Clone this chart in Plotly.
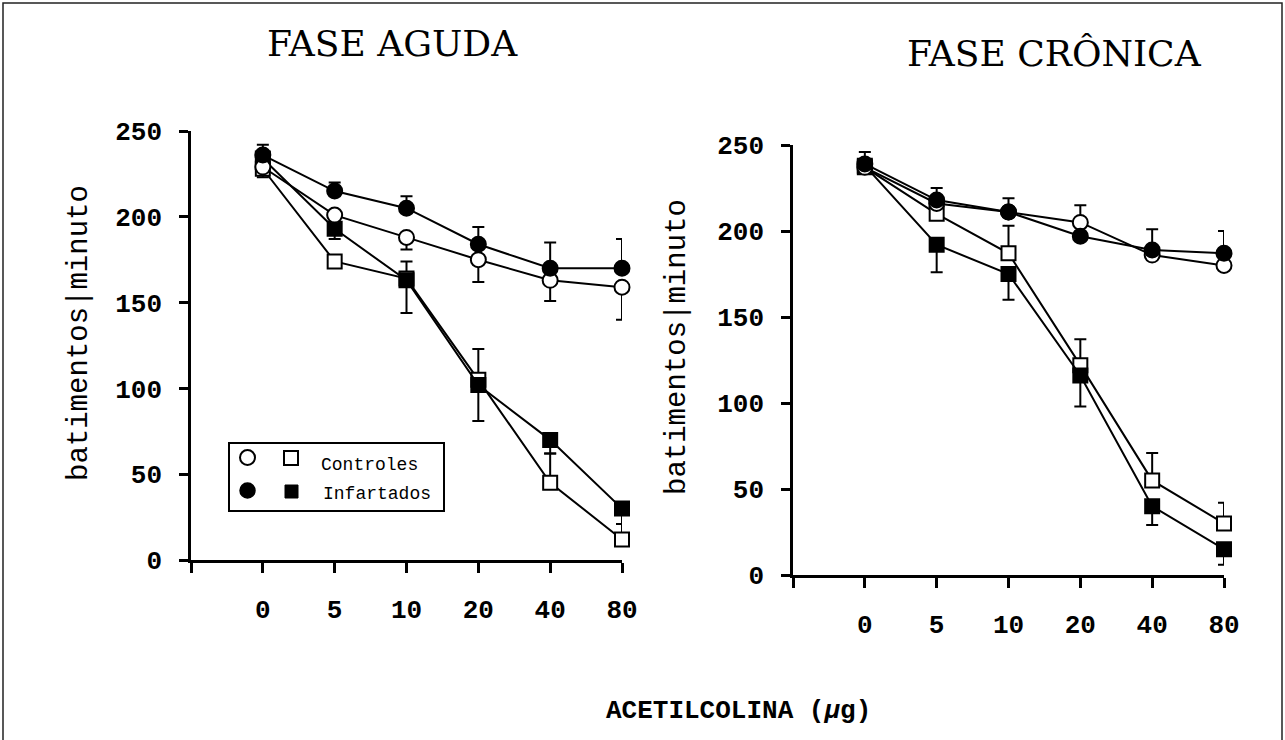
import plotly.graph_objects as go

W, H = 1285, 740

# ---------------- data ----------------
doses = ["0", "5", "10", "20", "40", "80"]
xpos = [1, 2, 3, 4, 5, 6]

# Fase aguda
ag_ctrl_circ = [229, 201, 188, 175, 163, 159]
ag_ctrl_circ_err_dn = [6, 4, 7, 13, 12, 19]
ag_inf_circ = [236, 215, 205, 184, 170, 170]
ag_inf_circ_err_up = [6, 5, 7, 10, 15, 17]
ag_ctrl_sq = [228, 174, 164, 105, 45, 12]
ag_ctrl_sq_err_up = [0, 0, 10, 18, 17, 9]
ag_inf_sq = [234, 193, 163, 102, 70, 30]
ag_inf_sq_err_dn = [0, 6, 19, 21, 8, 9]

# Fase cronica
cr_ctrl_circ = [237, 216, 211, 205, 186, 180]
cr_ctrl_circ_err_up = [0, 0, 0, 10, 0, 0]
cr_inf_circ = [239, 218, 211, 197, 189, 187]
cr_inf_circ_err_up = [7, 7, 8, 0, 12, 13]
cr_ctrl_sq = [237, 210, 187, 122, 55, 30]
cr_ctrl_sq_err_up = [0, 0, 16, 15, 16, 12]
cr_inf_sq = [238, 192, 175, 116, 40, 15]
cr_inf_sq_err_dn = [0, 16, 15, 18, 11, 9]

yticks = [0, 50, 100, 150, 200, 250]

MONO = "Liberation Mono, Courier New, monospace"
SERIF = "DejaVu Serif, Liberation Serif, serif"

fig = go.Figure()


def add_series(xa, ya, y, up, dn, symbol, filled):
    fig.add_trace(go.Scatter(
        x=xpos, y=y, xaxis=xa, yaxis=ya,
        mode="lines+markers",
        line=dict(color="black", width=2),
        marker=dict(symbol=symbol, size=15 if "circle" in symbol else 14,
                    color="black" if filled else "white",
                    line=dict(color="black", width=2)),
        error_y=dict(type="data", symmetric=False,
                     array=up, arrayminus=dn,
                     color="black", thickness=2, width=6),
        cliponaxis=False, showlegend=False,
    ))

z = [0] * 6
# left panel
add_series("x", "y", ag_ctrl_sq, ag_ctrl_sq_err_up, z, "square", False)
add_series("x", "y", ag_inf_sq, z, ag_inf_sq_err_dn, "square", True)
add_series("x", "y", ag_ctrl_circ, z, ag_ctrl_circ_err_dn, "circle", False)
add_series("x", "y", ag_inf_circ, ag_inf_circ_err_up, z, "circle", True)
# right panel
add_series("x2", "y2", cr_ctrl_sq, cr_ctrl_sq_err_up, z, "square", False)
add_series("x2", "y2", cr_inf_sq, z, cr_inf_sq_err_dn, "square", True)
add_series("x2", "y2", cr_ctrl_circ, cr_ctrl_circ_err_up, z, "circle", False)
add_series("x2", "y2", cr_inf_circ, cr_inf_circ_err_up, z, "circle", True)

tickfont = dict(family=MONO, size=26, color="black", weight="bold")

xax = dict(range=[0, 6], tickvals=[0] + xpos, ticktext=[""] + doses,
           showgrid=False, zeroline=False, showline=True, linecolor="black",
           linewidth=2.5, ticks="outside", ticklen=10, tickwidth=2.5,
           tickcolor="black", tickfont=tickfont, ticklabelstandoff=14,
           automargin=False)
yax = dict(range=[0, 250], tickvals=yticks, showgrid=False, zeroline=False,
           showline=True, linecolor="black", linewidth=2.5, ticks="outside",
           ticklen=9, tickwidth=2.5, tickcolor="black", tickfont=tickfont,
           ticklabelstandoff=12, automargin=False)

def px_x(p):
    return p / W

def px_y(p):
    return (H - p) / H

fig.update_layout(
    width=W, height=H,
    margin=dict(l=0, r=0, t=0, b=0, pad=0, autoexpand=False),
    paper_bgcolor="white", plot_bgcolor="white",
    xaxis=dict(xax, domain=[px_x(191), px_x(622)], anchor="y"),
    yaxis=dict(yax, domain=[px_y(560), px_y(131)], anchor="x"),
    xaxis2=dict(xax, domain=[px_x(793), px_x(1224)], anchor="y2"),
    yaxis2=dict(yax, domain=[px_y(575), px_y(145)], anchor="x2"),
)

ann = [
    dict(text="FASE AGUDA", x=px_x(392), y=px_y(44),
         font=dict(family=SERIF, size=36, color="black")),
    dict(text="FASE CRÔNICA", x=px_x(1054), y=px_y(53),
         font=dict(family=SERIF, size=36, color="black")),
    dict(text="batimentos|minuto", x=px_x(80), y=px_y(333), textangle=-90,
         font=dict(family=MONO, size=29, color="black")),
    dict(text="batimentos|minuto", x=px_x(677), y=px_y(347), textangle=-90,
         font=dict(family=MONO, size=29, color="black")),
    dict(text="ACETILCOLINA (<i>μ</i>g)", x=px_x(738), y=px_y(711),
         font=dict(family=MONO, size=26, color="black", weight="bold")),
    dict(text="Controles", x=px_x(319), y=px_y(465), xanchor="left",
         font=dict(family=MONO, size=18, color="black")),
    dict(text="Infartados", x=px_x(321), y=px_y(494), xanchor="left",
         font=dict(family=MONO, size=18, color="black")),
]
for a in ann:
    a.setdefault("xanchor", "center")
    a.update(xref="paper", yref="paper", yanchor="middle", showarrow=False)
fig.update_layout(annotations=ann)

shapes = [
    # outer frame
    dict(type="rect", x0=px_x(3), x1=px_x(1282), y0=-0.05, y1=px_y(3),
         line=dict(color="#222", width=1.5)),
    # legend box
    dict(type="rect", x0=px_x(229), x1=px_x(444), y0=px_y(511), y1=px_y(443),
         line=dict(color="black", width=2)),
    # legend symbols
    dict(type="circle", x0=px_x(240), x1=px_x(255), y0=px_y(465), y1=px_y(450),
         line=dict(color="black", width=2), fillcolor="white"),
    dict(type="rect", x0=px_x(284), x1=px_x(298), y0=px_y(465), y1=px_y(451),
         line=dict(color="black", width=2), fillcolor="white"),
    dict(type="circle", x0=px_x(240), x1=px_x(255), y0=px_y(498), y1=px_y(483),
         line=dict(color="black", width=1.5), fillcolor="black"),
    dict(type="rect", x0=px_x(285), x1=px_x(298), y0=px_y(498), y1=px_y(485),
         line=dict(color="black", width=1), fillcolor="black"),
]
for s in shapes:
    s.update(xref="paper", yref="paper")
fig.update_layout(shapes=shapes)

fig.write_html("out.html")
